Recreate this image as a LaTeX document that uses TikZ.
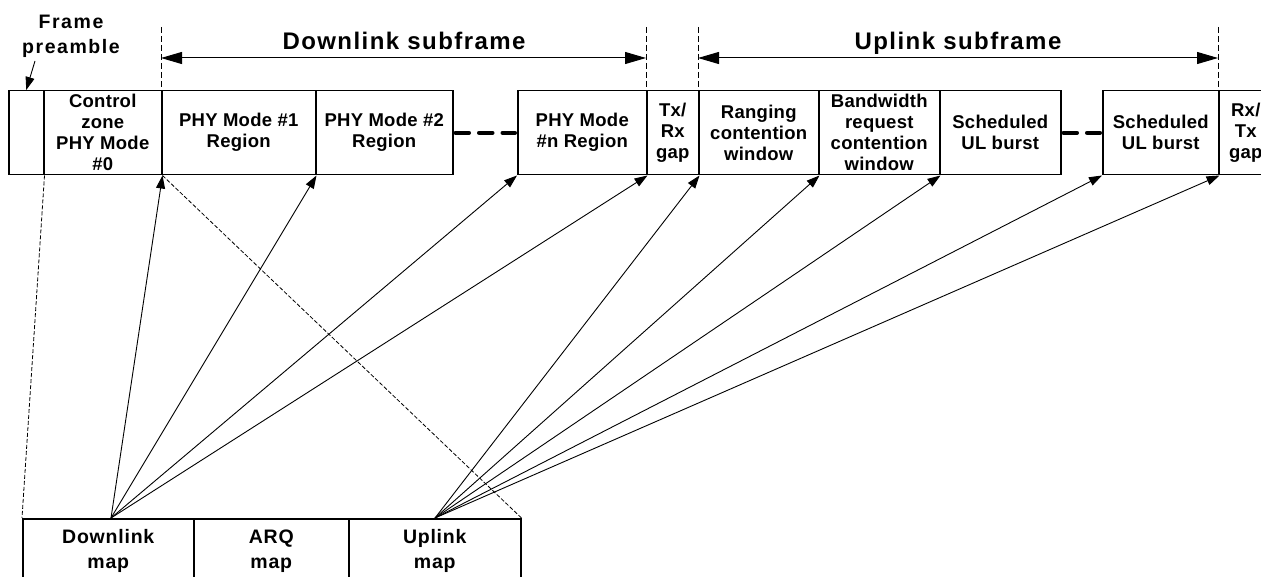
\documentclass[tikz,border=0pt]{standalone}
\usepackage{fontspec}
\setmainfont{Liberation Sans}
\usetikzlibrary{arrows.meta,calc}
\begin{document}
\begin{tikzpicture}[x=1pt,y=-1pt,
  box/.style={draw,line width=1.5pt,inner sep=0pt,anchor=north west,align=center,
    minimum height=84pt,font=\bfseries\fontsize{18.5}{21}\selectfont\addfontfeature{LetterSpace=1.5}},
  mapbox/.style={box,minimum height=64pt,font=\bfseries\fontsize{19.5}{25}\selectfont\addfontfeature{LetterSpace=4}},
  title/.style={inner sep=0pt,anchor=base,font=\bfseries\fontsize{24}{28}\selectfont\addfontfeature{LetterSpace=6}},
  lbl/.style={inner sep=0pt,align=center,font=\bfseries\fontsize{19.5}{25}\selectfont\addfontfeature{LetterSpace=8}},
  conn/.style={line width=0.9pt,-{Triangle[length=13pt,width=9pt]}},
  dimarr/.style={line width=1pt,{Triangle[length=21pt,width=12pt]}-{Triangle[length=21pt,width=12pt]}},
  guide/.style={line width=0.8pt,dash pattern=on 6pt off 3pt},
  thin dash/.style={line width=0.8pt,dash pattern=on 4pt off 2pt},
  gapdash/.style={line width=4pt,line cap=round,dash pattern=on 13.5pt off 10pt,shorten <=2pt,shorten >=2pt}]
\useasboundingbox (0,0) rectangle (1261,577);
\fill[white] (0,0) rectangle (1261,577);

% top frame boxes
\node[box,minimum width=35pt]  (pre)  at (8,90)   {};
\node[box,minimum width=118pt] (ctrl) at (43,90)  {Control\\zone\\PHY Mode\\\#0};
\node[box,minimum width=154pt] (phy1) at (161,90) {PHY Mode \#1\\Region};
\node[box,minimum width=137pt] (phy2) at (315,90) {PHY Mode \#2\\Region};
\node[box,minimum width=129pt] (phyn) at (517,90) {PHY Mode\\\#n Region};
\node[box,minimum width=52pt]  (txrx) at (646,90) {Tx/\\Rx\\gap};
\node[box,minimum width=120pt] (rang) at (698,90) {Ranging\\contention\\window};
\node[box,minimum width=121pt] (bw)   at (818,90) {Bandwidth\\request\\contention\\window};
\node[box,minimum width=121pt] (sch1) at (939,90) {Scheduled\\UL burst};
\node[box,minimum width=116pt] (sch2) at (1102,90) {Scheduled\\UL burst};
\node[box,minimum width=54pt]  (rxtx) at (1218,90) {Rx/\\Tx\\gap};

% thick dashes between boxes
\draw[gapdash] (phy2.east) -- (phyn.west);
\draw[gapdash] (sch1.east) -- (sch2.west);

% bottom map boxes
\node[mapbox,minimum width=171pt] (dl)  at (22,518)  {Downlink\\map};
\node[mapbox,minimum width=155pt] (arq) at (193,518) {ARQ\\map};
\node[mapbox,minimum width=172pt] (ul)  at (348,518) {Uplink\\map};

% frame preamble label
\node[lbl] (fp) at (71,36) {Frame\\preamble};
\coordinate (fpa) at (35,61);
\draw[conn] (fpa) -- (pre.north);

% vertical guides
\coordinate (g1) at ($(phy1.north west)+(0,-63)$);
\coordinate (g2) at ($(txrx.north west)+(0,-63)$);
\coordinate (g3) at ($(rang.north west)+(0,-63)$);
\coordinate (g4) at ($(rxtx.north west)+(0,-63)$);
\draw[guide] (g1) -- (phy1.north west);
\draw[guide] (g2) -- (txrx.north west);
\draw[guide] (g3) -- (rang.north west);
\draw[guide] (g4) -- (rxtx.north west);

% subframe dimension arrows
\coordinate (d1) at ($(phy1.north west)+(0,-32)$);
\coordinate (d2) at ($(txrx.north west)+(0,-32)$);
\coordinate (u1) at ($(rang.north west)+(0,-32)$);
\coordinate (u2) at ($(rxtx.north west)+(0,-32)$);
\draw[dimarr] (d1) -- (d2);
\draw[dimarr] (u1) -- (u2);
\node[title] (dlt) at (404,50) {Downlink subframe};
\node[title] (ult) at (958,50) {Uplink subframe};

% zoom-in dashed lines
\draw[thin dash] (pre.south east) -- (dl.north west);
\draw[thin dash] (ctrl.south east) -- (ul.north east);

% map connectors
\coordinate (dlfan) at (111,518);
\coordinate (ulfan) at (435,518);
\draw[conn] (dlfan) -- (ctrl.south east);
\draw[conn] (dlfan) -- (phy1.south east);
\draw[conn] (dlfan) -- (phyn.south west);
\draw[conn] (dlfan) -- (phyn.south east);
\draw[conn] (ulfan) -- (txrx.south east);
\draw[conn] (ulfan) -- (rang.south east);
\draw[conn] (ulfan) -- (bw.south east);
\draw[conn] (ulfan) -- (sch2.south west);
\draw[conn] (ulfan) -- (sch2.south east);
\end{tikzpicture}
\end{document}
